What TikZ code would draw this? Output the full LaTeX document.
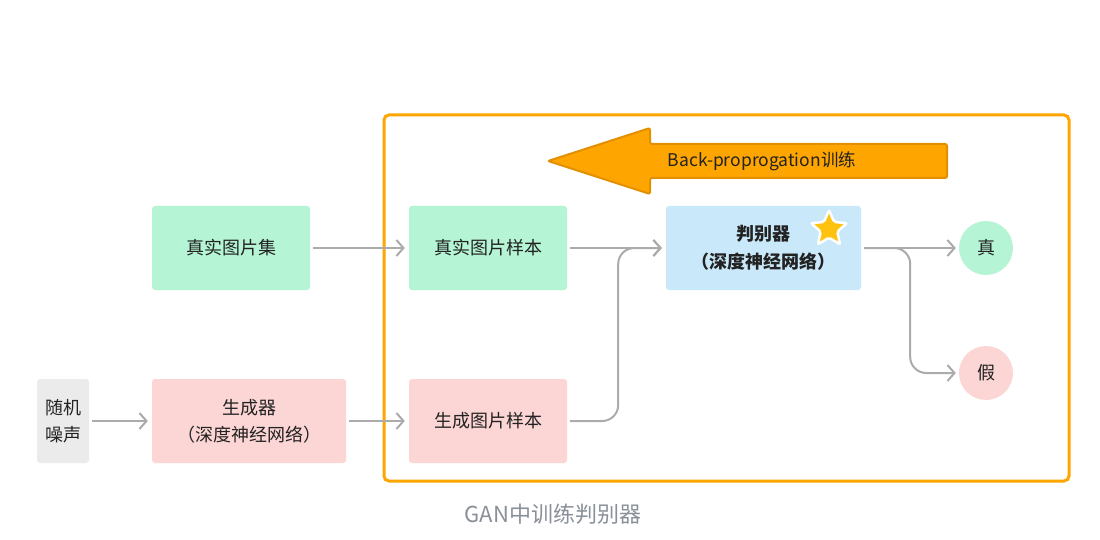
\documentclass[tikz,border=0pt]{standalone}
\usepackage{fontspec}
\setmainfont{Noto Sans CJK SC}
\usetikzlibrary{arrows.meta,shapes.geometric,calc}
\definecolor{gfill}{HTML}{B5F5D5}
\definecolor{pfill}{HTML}{FCD5D5}
\definecolor{bfill}{HTML}{C9E9FB}
\definecolor{nfill}{HTML}{EBEBEB}
\definecolor{orng}{HTML}{FFA500}
\definecolor{orngd}{HTML}{E39000}
\definecolor{conncol}{HTML}{ABABAB}
\definecolor{txt}{HTML}{222222}
\definecolor{captcol}{HTML}{8A9099}
\definecolor{staryel}{HTML}{FFC20E}
\tikzset{
  box/.style={rounded corners=3pt, inner sep=0pt, align=center, text=txt, font=\fontsize{18}{27}\selectfont},
  circ/.style={circle, minimum size=54pt, inner sep=0pt, text=txt, font=\fontsize{18}{20}\selectfont},
  conn/.style={draw=conncol, line width=2pt, -{Straight Barb[length=7pt,width=16pt,line width=2pt]}},
}
\begin{document}
\begin{tikzpicture}[x=1pt,y=-1pt]
\useasboundingbox[fill=white] (0,0) rectangle (1100,540);
% frame
\draw[orng, line width=3pt, rounded corners=5pt] (384,115) rectangle (1069,481);
% big arrow
\draw[fill=orng, draw=orngd, line width=2pt, rounded corners=2pt]
  (548,161) -- (650,128) -- (650,144) -- (947,144) -- (947,178) -- (650,178) -- (650,194) -- cycle;
\node[text=txt, font=\fontsize{17.5}{20}\selectfont] (bp) at (762,161) {Back-proprogation训练};
% nodes
\node[box, fill=gfill, minimum width=158pt, minimum height=84pt] (realset) at (231,248) {真实图片集};
\node[box, fill=gfill, minimum width=158pt, minimum height=84pt] (realsam) at (488,248) {真实图片样本};
\node[box, fill=bfill, minimum width=195pt, minimum height=84pt, font=\bfseries\fontsize{18}{28}\selectfont] (judge) at (763.5,248) {判别器\\（深度神经网络）};
\node[circ, fill=gfill] (real) at (986,248) {真};
\node[circ, fill=pfill] (fake) at (986,373) {假};
\node[box, fill=nfill, minimum width=52pt, minimum height=84pt] (noise) at (63,421) {随机\\噪声};
\node[box, fill=pfill, minimum width=194pt, minimum height=84pt] (gen) at (249,421) {生成器\\（深度神经网络）};
\node[box, fill=pfill, minimum width=158pt, minimum height=84pt] (gensam) at (488,421) {生成图片样本};
% star
\node[star, star points=5, star point ratio=2.2, minimum size=38pt, inner sep=0pt, fill=staryel, draw=white, line width=2.5pt, rounded corners=2pt] (star) at (829,229) {};
% connectors
\draw[conn] ([xshift=3pt]realset.east) -- ([xshift=-4pt]realsam.west);
\draw[conn] ([xshift=3pt]realsam.east) -- ([xshift=-4pt]judge.west);
\draw[conn, rounded corners=16pt] ([xshift=3pt]gensam.east) -- ++(48,0) |- ([xshift=-4pt]judge.west);
\draw[conn] ([xshift=3pt]noise.east) -- ([xshift=-4pt]gen.west);
\draw[conn] ([xshift=3pt]gen.east) -- ([xshift=-4pt]gensam.west);
\draw[conn] ([xshift=3pt]judge.east) -- ([xshift=-3pt]real.west);
\draw[conn, rounded corners=16pt] ([xshift=3pt]judge.east) -- ++(46,0) |- ([xshift=-3pt]fake.west);
% caption
\node[text=captcol, font=\fontsize{22}{26}\selectfont] (cap) at (553,514) {GAN中训练判别器};
\end{tikzpicture}
\end{document}
